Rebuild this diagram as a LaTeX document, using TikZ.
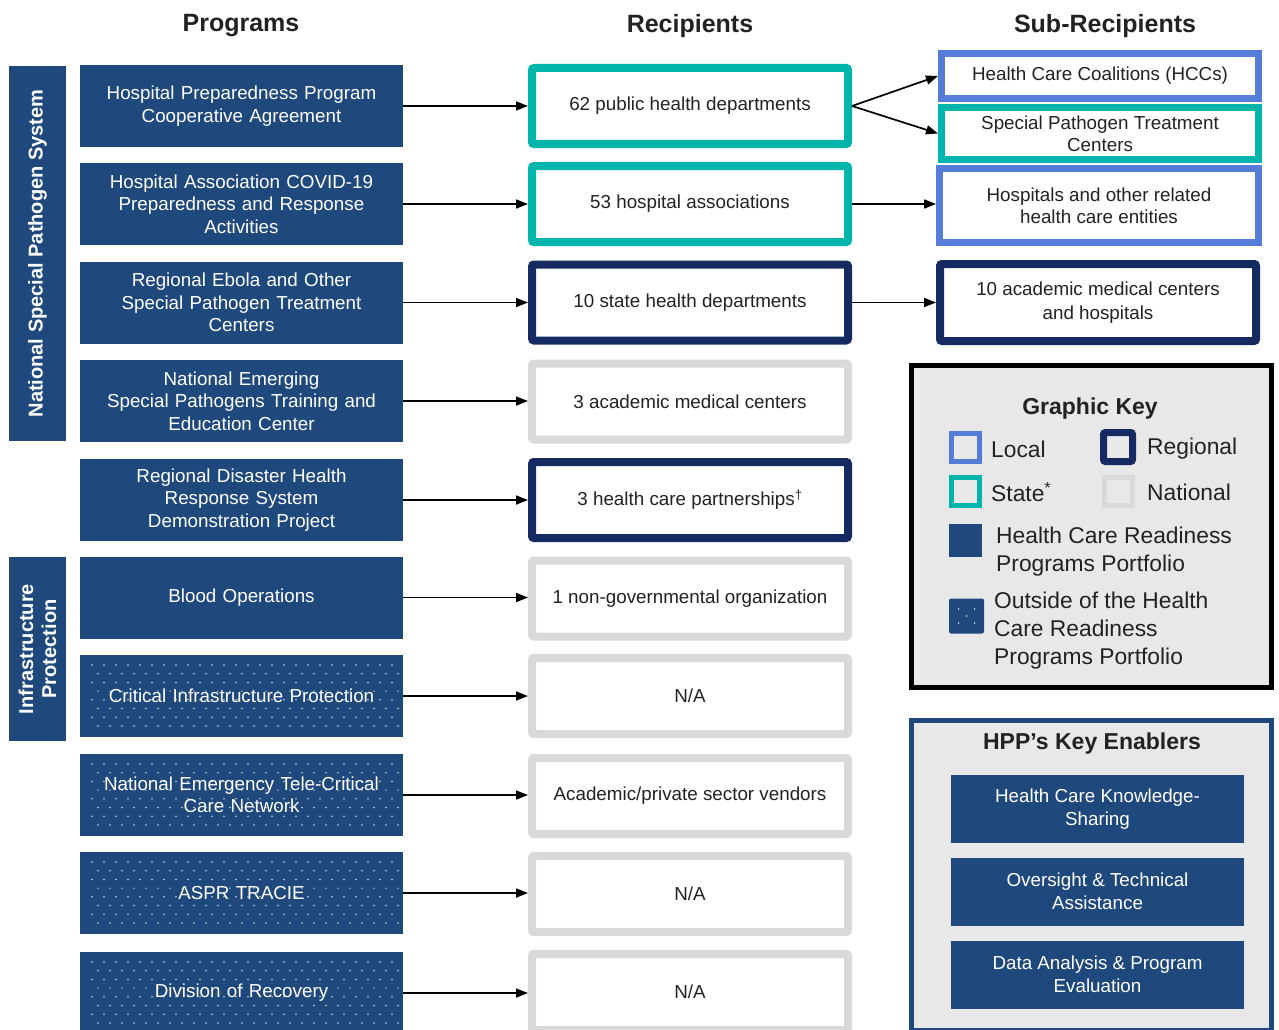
\documentclass[tikz,border=0pt]{standalone}
\usepackage{fontspec}
\setmainfont{Liberation Sans}
\usetikzlibrary{arrows.meta,calc}

\definecolor{progC}{RGB}{31,73,125}
\definecolor{stateC}{RGB}{0,182,172}
\definecolor{localC}{RGB}{86,124,218}
\definecolor{regionC}{RGB}{20,42,96}
\definecolor{natC}{RGB}{217,217,217}
\definecolor{keybg}{RGB}{232,232,232}
\definecolor{inkC}{RGB}{34,34,34}

% white dot grid laid over a 323x82 programme box (top-left corner given)
\newcommand\sprinkle[2]{%
  \begin{scope}
    \clip (#1,#2) rectangle ++(323,82);
    \foreach \r in {0,...,7}{
      \foreach \c in {0,...,25}{
        \fill[white,opacity=.75] ({#1+12+\c*12+mod(\r,2)*6},{#2+10+\r*8.7}) circle (0.85);
      }
    }
  \end{scope}}

\begin{document}
\begin{tikzpicture}[x=1pt,y=-1pt,
  header/.style={font=\bfseries\fontsize{25}{29}\selectfont, text=inkC},
  prog/.style={fill=progC, text=white, minimum width=323pt, minimum height=82pt,
    inner sep=0pt, align=center, text width=318pt,
    font=\fontsize{18.8}{22.5}\selectfont},
  side/.style={fill=progC, text=white, rotate=90, inner sep=0pt, align=center,
    font=\bfseries\fontsize{20}{23}\selectfont},
  recip/.style={draw=#1, line width=8pt, fill=white, rounded corners=2pt,
    minimum width=316pt, minimum height=76pt, inner sep=0pt, align=center,
    text=inkC, font=\fontsize{18.8}{22}\selectfont},
  sub/.style={draw=#1, line width=7pt, fill=white, minimum width=317pt,
    inner sep=0pt, align=center, text=inkC, font=\fontsize{18.8}{22}\selectfont},
  keysq/.style={draw=#1, line width=5pt, fill=keybg, minimum size=28pt, inner sep=0pt},
  keytxt/.style={anchor=west, text=inkC, align=left, inner sep=0pt,
    font=\fontsize{22.8}{28}\selectfont},
  enab/.style={fill=progC, text=white, minimum width=293pt, minimum height=68pt,
    inner sep=0pt, align=center, font=\fontsize{18.8}{22.5}\selectfont},
  ktitle/.style={font=\bfseries\fontsize{23}{27}\selectfont, text=inkC},
  arr/.style={line width=1.7pt, -{Triangle[length=12pt,width=9pt]}},
]
\useasboundingbox (0,0) rectangle (1279,1030);

% column headers
\node[header] (hP) at (241,26) {Programs};
\node[header] (hR) at (690,26) {Recipients};
\node[header] (hS) at (1105,26) {Sub-Recipients};

% grouping bands on the left
\node[side, minimum width=375pt, minimum height=57pt] (nsps) at (37.5,253.5)
  {National Special Pathogen System};
\node[side, minimum width=184pt, minimum height=57pt] (infra) at (37.5,649)
  {Infrastructure\\Protection};

% programmes
\node[prog] (p1) at (241.5,106) {Hospital Preparedness Program\\Cooperative Agreement};
\node[prog] (p2) at (241.5,204) {Hospital Association COVID-19\\Preparedness and Response\\Activities};
\node[prog] (p3) at (241.5,302.5) {Regional Ebola and Other\\Special Pathogen Treatment\\Centers};
\node[prog] (p4) at (241.5,401) {National Emerging\\Special Pathogens Training and\\Education Center};
\node[prog] (p5) at (241.5,500) {Regional Disaster Health\\Response System\\Demonstration Project};
\node[prog] (p6) at (241.5,597.5) {Blood Operations};
\node[prog] (p7) at (241.5,696) {};
\node[prog] (p8) at (241.5,795) {};
\node[prog] (p9) at (241.5,893) {};
\node[prog] (p10) at (241.5,993) {};
\sprinkle{80}{655}
\sprinkle{80}{754}
\sprinkle{80}{852}
\sprinkle{80}{952}
\node[prog, fill=none] (t7) at (p7) {Critical Infrastructure Protection};
\node[prog, fill=none] (t8) at (p8) {National Emergency Tele-Critical\\Care Network};
\node[prog, fill=none] (t9) at (p9) {ASPR TRACIE};
\node[prog, fill=none] (t10) at (p10) {Division of Recovery};

% recipients
\node[recip=stateC]  (r1) at (690,106) {62 public health departments};
\node[recip=stateC]  (r2) at (690,204) {53 hospital associations};
\node[recip=regionC] (r3) at (690,302.5) {10 state health departments};
\node[recip=natC]    (r4) at (690,401.5) {3 academic medical centers};
\node[recip=regionC] (r5) at (690,500) {3 health care partnerships\textsuperscript{†}};
\node[recip=natC]    (r6) at (690,598.5) {1 non-governmental organization};
\node[recip=natC]    (r7) at (690,696) {N/A};
\node[recip=natC]    (r8) at (690,796) {Academic/private sector vendors};
\node[recip=natC]    (r9) at (690,894) {N/A};
\node[recip=natC]    (r10) at (690,992) {N/A};

% sub-recipients
\node[sub=localC, minimum height=45pt] (s1) at (1100,76) {Health Care Coalitions (HCCs)};
\node[sub=stateC, minimum height=52pt] (s2) at (1100,133.5) {Special Pathogen Treatment\\Centers};
\node[sub=localC, minimum width=319pt, minimum height=74pt] (s3) at (1099,205.5)
  {Hospitals and other related\\health care entities};
\node[sub=regionC, line width=8pt, minimum width=316pt, minimum height=77pt,
  rounded corners=2pt, font=\fontsize{18.8}{24}\selectfont] (s4) at (1098,302.5)
  {10 academic medical centers\\and hospitals};

% programme -> recipient
\foreach \i in {1,...,10}{
  \draw[arr] (p\i.east) -- (p\i.east -| r\i.west);
}
% recipient -> sub-recipient
\draw[arr] (r1.east) -- (s1.west);
\draw[arr] (r1.east) -- (s2.west);
\draw[arr] (r2.east) -- (r2.east -| s3.west);
\draw[arr] (r3.east) -- (r3.east -| s4.west);

% graphic key
\node[draw=black, line width=5pt, fill=keybg, minimum width=360pt, minimum height=322pt,
  inner sep=0pt] (key) at (1091.5,526.5) {};
\node[ktitle] (keyT) at (1090,409) {Graphic Key};
\node[keysq=localC] (kLoc) at (965.5,447) {};
\node[keysq=regionC, line width=7pt, minimum size=29pt, rounded corners=2pt] (kReg) at (1118,447) {};
\node[keysq=stateC] (kSta) at (965.5,491) {};
\node[keysq=natC] (kNat) at (1118,491) {};
\node[fill=progC, minimum size=33pt, inner sep=0pt] (kHcr) at (965.5,540.5) {};
\node[fill=progC, minimum size=35pt, inner sep=0pt, rounded corners=2pt] (kOut) at (966.5,616) {};
\foreach \dx/\dy in {-8/-7, 8/-7, 0/0, -8/7, 8/7}{
  \fill[white,opacity=.8] ($(kOut)+(\dx,\dy)$) circle (0.9);
}
\node[keytxt] (lLoc) at (991,449) {Local};
\node[keytxt] (lReg) at (1147,449) {Regional};
\node[keytxt] (lSta) at (991,492) {State\textsuperscript{*}};
\node[keytxt] (lNat) at (1147,492) {National};
\node[keytxt] (lHcr) at (996,552) {Health Care Readiness\\Programs Portfolio};
\node[keytxt] (lOut) at (994,631) {Outside of the Health\\Care Readiness\\Programs Portfolio};

% key enablers
\node[draw=progC, line width=5pt, fill=keybg, minimum width=360pt, minimum height=310pt,
  inner sep=0pt] (enb) at (1091.5,875) {};
\node[ktitle] (enbT) at (1092,744) {HPP’s Key Enablers};
\node[enab] (e1) at (1097.5,809) {Health Care Knowledge-\\Sharing};
\node[enab] (e2) at (1097.5,891.5) {Oversight \& Technical\\Assistance};
\node[enab] (e3) at (1097.5,974.5) {Data Analysis \& Program\\Evaluation};
\end{tikzpicture}
\end{document}
